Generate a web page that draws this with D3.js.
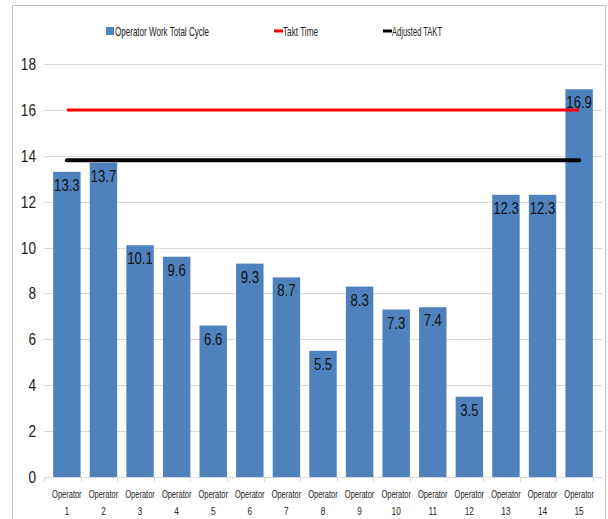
<!DOCTYPE html>
<html>
<head>
<meta charset="utf-8">
<script src="https://cdn.jsdelivr.net/npm/d3@7"></script>
<style>
  body { margin: 0; background: #fff; }
  svg { font-family: "Liberation Sans", Arial, sans-serif; }
</style>
</head>
<body>
<svg width="608" height="519"></svg>
<script>
// chart data
var operators = ["1","2","3","4","5","6","7","8","9","10","11","12","13","14","15"];
var cycleTimes = [13.3, 13.7, 10.1, 9.6, 6.6, 9.3, 8.7, 5.5, 8.3, 7.3, 7.4, 3.5, 12.3, 12.3, 16.9];
var taktTime = 16;
var adjustedTakt = 13.8;
var yTicks = [0, 2, 4, 6, 8, 10, 12, 14, 16, 18];
var legendNames = ["Operator Work Total Cycle", "Takt Time", "Adjusted TAKT"];

var svg = d3.select("svg");

// squeeze text horizontally, the original uses a narrow font
function narrow(sel, f){
  sel.each(function(){
    var len = this.getComputedTextLength();
    d3.select(this).attr("textLength", len * f).attr("lengthAdjust", "spacingAndGlyphs");
  });
}

// outer frame
svg.append("path")
  .attr("d", "M12.5,519 V5.5 H605.5 V519")
  .attr("fill", "none")
  .attr("stroke", "#bfbfbf");

var plotLeft = 44, plotRight = 602, plotTop = 64, plotBottom = 477;

var x = d3.scaleBand().domain(operators).range([plotLeft, plotRight]).padding(0.25);
var y = d3.scaleLinear().domain([0, 18]).range([plotBottom, plotTop]);

// gridlines
svg.selectAll(".grid")
  .data(yTicks.slice(1))
  .enter().append("line")
  .attr("x1", plotLeft).attr("x2", plotRight)
  .attr("y1", function(d){ return Math.round(y(d)) + 0.5; })
  .attr("y2", function(d){ return Math.round(y(d)) + 0.5; })
  .attr("stroke", "#d9d9d9");

// y labels
svg.selectAll(".ylab")
  .data(yTicks)
  .enter().append("text")
  .attr("x", 36)
  .attr("y", function(d){ return y(d); })
  .attr("dy", "0.35em")
  .attr("text-anchor", "end")
  .attr("font-size", 17)
  .attr("fill", "#222")
  .text(function(d){ return d; })
  .call(narrow, 0.8);

// bars
svg.selectAll(".bar")
  .data(cycleTimes)
  .enter().append("rect")
  .attr("x", function(d, i){ return x(operators[i]); })
  .attr("width", x.bandwidth())
  .attr("y", function(d){ return y(d); })
  .attr("height", function(d){ return y(0) - y(d); })
  .attr("fill", "#4f81bd");

// reference lines, from first bar centre to last bar centre
var x0 = x(operators[0]) + x.bandwidth() / 2;
var x1 = x(operators[operators.length - 1]) + x.bandwidth() / 2;
svg.append("line")
  .attr("x1", x0).attr("x2", x1)
  .attr("y1", y(taktTime)).attr("y2", y(taktTime))
  .attr("stroke", "#ff0000").attr("stroke-width", 3);
svg.append("line")
  .attr("x1", x0).attr("x2", x1)
  .attr("y1", y(adjustedTakt)).attr("y2", y(adjustedTakt))
  .attr("stroke", "#000").attr("stroke-width", 4)
  .attr("stroke-linecap", "round");

// value labels inside bar ends
svg.selectAll(".val")
  .data(cycleTimes)
  .enter().append("text")
  .attr("x", function(d, i){ return x(operators[i]) + x.bandwidth() / 2; })
  .attr("y", function(d){ return y(d) + 19; })
  .attr("text-anchor", "middle")
  .attr("font-size", 16)
  .attr("fill", "#111")
  .text(function(d){ return d.toFixed(1); })
  .call(narrow, 0.82);

// x axis line and ticks
svg.append("line")
  .attr("x1", plotLeft).attr("x2", plotRight)
  .attr("y1", plotBottom + 0.5).attr("y2", plotBottom + 0.5)
  .attr("stroke", "#d9d9d9");
var step = x.step();
svg.selectAll(".xtick")
  .data(d3.range(operators.length + 1))
  .enter().append("line")
  .attr("x1", function(i){ return Math.round(plotLeft + i * step) + 0.5; })
  .attr("x2", function(i){ return Math.round(plotLeft + i * step) + 0.5; })
  .attr("y1", plotBottom).attr("y2", plotBottom + 5)
  .attr("stroke", "#d9d9d9");

// x labels
svg.selectAll(".xlab1")
  .data(operators)
  .enter().append("text")
  .attr("x", function(d){ return x(d) + x.bandwidth() / 2; })
  .attr("y", 498)
  .attr("text-anchor", "middle")
  .attr("font-size", 11)
  .attr("fill", "#222")
  .text("Operator")
  .call(narrow, 0.68);
svg.selectAll(".xlab2")
  .data(operators)
  .enter().append("text")
  .attr("x", function(d){ return x(d) + x.bandwidth() / 2; })
  .attr("y", 515)
  .attr("text-anchor", "middle")
  .attr("font-size", 11)
  .attr("fill", "#222")
  .text(function(d){ return d; })
  .call(narrow, 0.75);

// legend
var lg = svg.append("g").attr("font-size", 13).attr("fill", "#222");
lg.append("rect").attr("x", 106).attr("y", 27).attr("width", 8).attr("height", 8).attr("fill", "#4f81bd");
lg.append("text").attr("x", 115).attr("y", 36).text(legendNames[0]).attr("textLength", 94).attr("lengthAdjust", "spacingAndGlyphs");
lg.append("line").attr("x1", 274).attr("x2", 283).attr("y1", 31).attr("y2", 31).attr("stroke", "#ff0000").attr("stroke-width", 3);
lg.append("text").attr("x", 283).attr("y", 36).text(legendNames[1]).attr("textLength", 35).attr("lengthAdjust", "spacingAndGlyphs");
lg.append("line").attr("x1", 383).attr("x2", 392).attr("y1", 31).attr("y2", 31).attr("stroke", "#000").attr("stroke-width", 3);
lg.append("text").attr("x", 392).attr("y", 36).text(legendNames[2]).attr("textLength", 50).attr("lengthAdjust", "spacingAndGlyphs");
</script>
</body>
</html>
